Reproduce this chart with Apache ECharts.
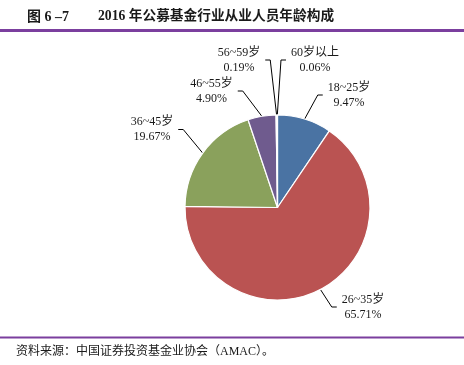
<!DOCTYPE html>
<html><head><meta charset="utf-8">
<script src="https://cdn.jsdelivr.net/npm/echarts@6/dist/echarts.min.js"></script>
<style>html,body{margin:0;padding:0;background:#fff}#c{width:464px;height:365px}</style>
</head><body><div id="c"></div>
<script>
const categories = ['18~25岁', '26~35岁', '36~45岁', '46~55岁', '56~59岁', '60岁以上'];
const shares = [9.47, 65.71, 19.67, 4.90, 0.19, 0.06];
const titleNo = '图 6 –7';
const titleText = '2016 年公募基金行业从业人员年龄构成';
const sourceText = '资料来源：中国证券投资基金业协会（AMAC）。';

const colors = ['#4A73A3', '#BA5352', '#8AA15C', '#6F5B8E', '#4BACC6', '#F79646'];
// label placement (style only): block centre and which side the leader comes from
const labelPos = [
  { x: 349, y: 95, side: 'right' },
  { x: 363, y: 307, side: 'right' },
  { x: 152, y: 129.5, side: 'left' },
  { x: 211.5, y: 91, side: 'left' },
  { x: 239, y: 60, side: 'left' },
  { x: 315, y: 60, side: 'right' }
];
const serif = "'Liberation Serif', 'Noto Sans CJK SC', serif";

const chart = echarts.init(document.getElementById('c'), null, { renderer: 'canvas' });
chart.setOption({
  animation: false,
  backgroundColor: '#fff',
  title: [
    { text: titleNo, left: 22, top: 5, textStyle: { fontFamily: serif, fontSize: 14, fontWeight: 'bold', color: '#1a1a1a' } },
    { text: titleText, left: 93, top: 5, textStyle: { fontFamily: serif, fontSize: 13.7, fontWeight: 'bold', color: '#1a1a1a' } }
  ],
  graphic: [
    { type: 'line', shape: { x1: 0, y1: 30.5, x2: 464, y2: 30.5 }, style: { stroke: '#7B3F9E', lineWidth: 3 } },
    { type: 'line', shape: { x1: 0, y1: 337.5, x2: 464, y2: 337.5 }, style: { stroke: '#7B3F9E', lineWidth: 2 } },
    { type: 'text', left: 16, top: 346, style: { text: sourceText, font: "12px 'Liberation Serif', 'Noto Sans CJK SC'", fill: '#1a1a1a' } }
  ],
  series: [{
    type: 'pie',
    center: [277.5, 207.5],
    radius: 92.5,
    startAngle: 90,
    clockwise: true,
    avoidLabelOverlap: false,
    silent: true,
    itemStyle: { borderColor: '#fff', borderWidth: 1.2 },
    label: {
      show: true,
      position: 'outside',
      fontFamily: serif,
      fontSize: 12,
      lineHeight: 15,
      color: '#1a1a1a',
      formatter: p => p.name + '\n' + shares[p.dataIndex].toFixed(2) + '%'
    },
    labelLine: { show: true, length: 10, length2: 5, lineStyle: { color: '#000', width: 1 } },
    labelLayout: function (p) {
      const L = labelPos[p.dataIndex];
      const w = p.labelRect.width;
      const gap = 5, seg = 5;
      const edge = L.side === 'right' ? L.x - w / 2 - gap : L.x + w / 2 + gap;
      const elbow = L.side === 'right' ? edge - seg : edge + seg;
      const res = { x: L.x, y: L.y, align: 'center', verticalAlign: 'middle' };
      if (p.labelLinePoints) res.labelLinePoints = [p.labelLinePoints[0], [elbow, L.y], [edge, L.y]];
      return res;
    },
    data: categories.map((n, i) => ({ name: n, value: shares[i], itemStyle: { color: colors[i] } }))
  }]
});
</script></body></html>
